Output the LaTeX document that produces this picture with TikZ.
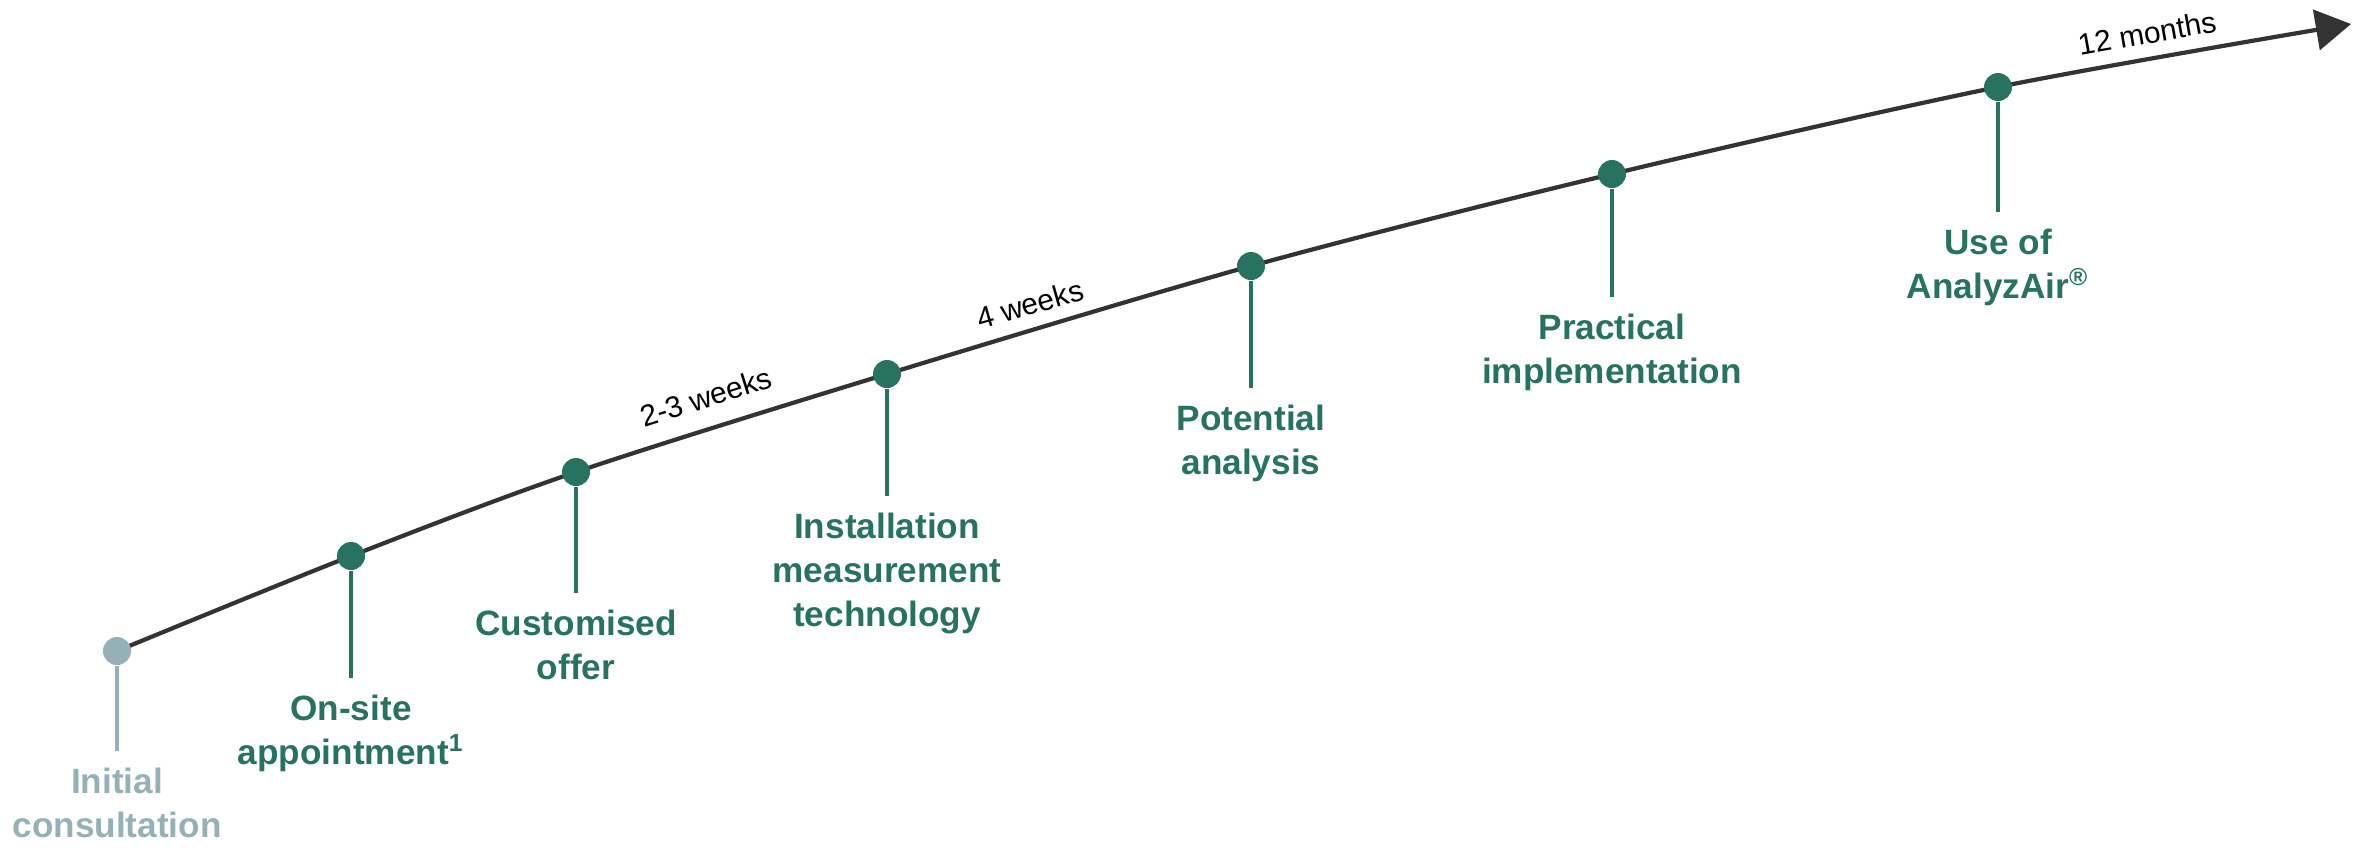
\documentclass[tikz,border=0pt]{standalone}
\usepackage{fontspec}
\setmainfont{Liberation Sans}
\usetikzlibrary{arrows.meta, positioning}
\definecolor{stepgreen}{HTML}{287262}
\definecolor{stepgrey}{HTML}{95B1B7}
\definecolor{axisgrey}{HTML}{333333}

\begin{document}
\begin{tikzpicture}[x=0.01cm,y=-0.01cm,>={Triangle[length=10pt,width=11.5pt]},
  node distance=0.16cm,
  dot/.style={circle,fill=stepgreen,inner sep=0pt,minimum size=0.28cm},
  milestone/.style={font=\bfseries\fontsize{10}{12.5}\selectfont,text=stepgreen,align=center,inner sep=0pt},
  span/.style={font=\fontsize{8.5}{10}\selectfont,inner sep=0pt}]
  \useasboundingbox (0,0) rectangle (2367,847);
  \coordinate (p0) at (117,651);
  \coordinate (p1) at (351,556);
  \coordinate (p2) at (576,472);
  \coordinate (p3) at (887,374);
  \coordinate (p4) at (1251,266);
  \coordinate (p5) at (1612,174);
  \coordinate (p6) at (1998,87);
  \coordinate (tip) at (2351,24);
  \draw[->,line width=1.2pt,axisgrey] plot[smooth] coordinates {(p0) (p1) (p2) (p3) (p4) (p5) (p6) (tip)};
  % time spans
  \node[span,rotate=17.5] (w23) at (706,397) {2-3 weeks};
  \node[span,rotate=16] (w4) at (1030,304) {4 weeks};
  \node[span,rotate=10] (m12) at (2147,33) {12 months};
  % milestones
  \node[dot,fill=stepgrey] (d0) at (p0) {};
  \node[dot] (d1) at (p1) {};
  \node[dot] (d2) at (p2) {};
  \node[dot] (d3) at (p3) {};
  \node[dot] (d4) at (p4) {};
  \node[dot] (d5) at (p5) {};
  \node[dot] (d6) at (p6) {};
  \coordinate (s0) at (117,751);
  \coordinate (s1) at (351,678);
  \coordinate (s2) at (576,593);
  \coordinate (s3) at (887,496);
  \coordinate (s4) at (1251,388);
  \coordinate (s5) at (1612,297);
  \coordinate (s6) at (1998,212);
  \node[milestone,text=stepgrey] (l0) [below=of s0] {Initial\\consultation};
  \node[milestone] (l1) [below=of s1] {On-site\\appointment\textsuperscript{1}};
  \node[milestone] (l2) [below=of s2] {Customised\\offer};
  \node[milestone] (l3) [below=of s3] {Installation\\measurement\\technology};
  \node[milestone] (l4) [below=of s4] {Potential\\analysis};
  \node[milestone] (l5) [below=of s5] {Practical\\implementation};
  \node[milestone] (l6) [below=of s6] {Use of\\AnalyzAir\textsuperscript{®}};
  \path[line width=0.9pt]
    (d0) edge[stepgrey] (s0)
    (d1) edge[stepgreen] (s1)
    (d2) edge[stepgreen] (s2)
    (d3) edge[stepgreen] (s3)
    (d4) edge[stepgreen] (s4)
    (d5) edge[stepgreen] (s5)
    (d6) edge[stepgreen] (s6);
\end{tikzpicture}
\end{document}
